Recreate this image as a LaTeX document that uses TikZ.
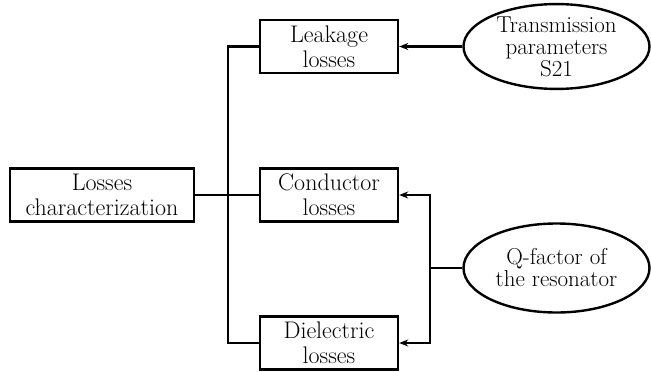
\documentclass[tikz,border=0pt]{standalone}
\usetikzlibrary{shapes.geometric,arrows.meta}
\begin{document}
\begin{tikzpicture}[x=1pt,y=-1pt,
  lbox/.style={draw,line width=2.4pt,minimum height=53pt,inner sep=0pt,align=center,font=\fontsize{24}{25}\selectfont},
  lell/.style={draw,ellipse,line width=2.4pt,inner sep=0pt,align=center,font=\fontsize{23}{22}\selectfont},
  conn/.style={line width=2.8pt},
  arr/.style={line width=2.8pt,-{Stealth[length=9pt,width=7pt]}}]
\useasboundingbox (0,0) rectangle (651,372);
\node[lbox,minimum width=184pt] (lc) at (102,195) {Losses\\characterization};
\node[lbox,minimum width=138pt] (leak) at (329,46.5) {Leakage\\losses};
\node[lbox,minimum width=138pt] (cond) at (329,195) {Conductor\\losses};
\node[lbox,minimum width=138pt] (diel) at (329,343) {Dielectric\\losses};
\node[lell,minimum width=186pt,minimum height=83pt] (tp) at (556.5,46.5) {Transmission\\parameters\\S21};
\node[lell,minimum width=186pt,minimum height=89pt] (qf) at (556.5,268) {Q-factor of\\the resonator};
\coordinate (bus) at (228,195);
\coordinate (qbus) at (430,268);
\draw[conn] (lc.east) -- (cond.west);
\draw[conn] (leak.west) -| (bus) |- (diel.west);
\draw[arr] (tp.west) -- (leak.east);
\draw[conn] (qf.west) -- (qbus);
\draw[arr] (qbus) |- (cond.east);
\draw[arr] (qbus) |- (diel.east);
\end{tikzpicture}
\end{document}
